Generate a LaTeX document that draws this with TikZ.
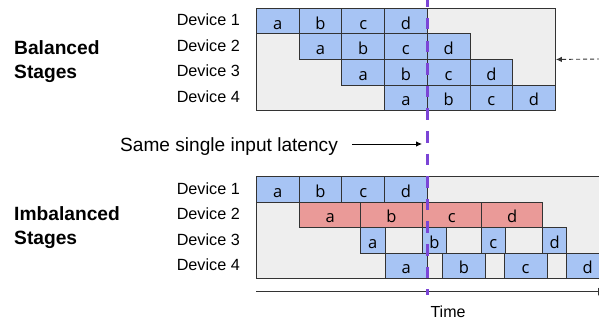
\documentclass[tikz,border=0pt]{standalone}
\usepackage{fontspec}
\setmainfont{Liberation Sans}
\newfontfamily\blkfont{Open Sans}
\usetikzlibrary{arrows.meta}

\definecolor{blkblue}{HTML}{A7C4F4}
\definecolor{blkred}{HTML}{EA9A98}
\definecolor{lanegray}{HTML}{EEEEEE}
\definecolor{edgegray}{HTML}{333333}
\definecolor{cutpurple}{HTML}{7B45D6}

% one work block: name, left x, top y, width, label, fill style
\newcommand\blk[6]{\node[blkbox, #6, minimum width=#4] (#1) at (#2,#3) {#5};}

\tikzset{
  lane/.style={draw=edgegray, fill=lanegray, line width=0.9pt, inner sep=0pt, anchor=north west},
  blkbox/.style={draw=edgegray, line width=0.9pt, inner sep=0pt, anchor=north west,
    minimum height=25.5, text height=16, text depth=0,
    font=\blkfont\fontsize{16.5}{18}\selectfont},
  blue/.style={fill=blkblue},
  red/.style={fill=blkred},
  devlbl/.style={anchor=base east, inner sep=0pt, font=\fontsize{16.2}{19}\selectfont},
  title/.style={anchor=base west, inner sep=0pt, font=\bfseries\fontsize{19.2}{23}\selectfont},
}

\begin{document}
\begin{tikzpicture}[x=1pt, y=-1pt]
\clip (0,0) rectangle (599,321);
\fill[white] (0,0) rectangle (599,321);

% ---------- balanced stages ----------
\node[lane, minimum width=299, minimum height=102] (topframe) at (256,8) {};
\foreach \r/\lbl in {1/a,2/b,3/c,4/d}{
  \foreach \d in {1,...,4}{
    \pgfmathsetmacro\xx{256+42.7*(\r+\d-2)}
    \pgfmathsetmacro\yy{8+25.5*(\d-1)}
    \blk{t\d\lbl}{\xx}{\yy}{42.7}{\lbl}{blue}
  }
}
\node[devlbl] (td1) at (240,26) {Device 1};
\node[devlbl] (td2) at (240,51.5) {Device 2};
\node[devlbl] (td3) at (240,77) {Device 3};
\node[devlbl] (td4) at (240,102.5) {Device 4};
\node[title] (bal1) at (14,55) {Balanced};
\node[title] (bal2) at (14,78.5) {Stages};

% ---------- imbalanced stages ----------
\node[lane, minimum width=360, minimum height=102] (botframe) at (256,176) {};
% device 1
\blk{b1a}{256}{176}{42.7}{a}{blue}
\blk{b1b}{298.7}{176}{42.7}{b}{blue}
\blk{b1c}{341.4}{176}{42.7}{c}{blue}
\blk{b1d}{384.1}{176}{42.7}{d}{blue}
% device 2 (slow stage)
\blk{b2a}{299.3}{201.5}{60.9}{a}{red}
\blk{b2b}{360.2}{201.5}{61.5}{b}{red}
\blk{b2c}{421.7}{201.5}{59.5}{c}{red}
\blk{b2d}{481.2}{201.5}{61.1}{d}{red}
% device 3
\blk{b3a}{360.2}{227}{24.3}{a}{blue}
\blk{b3b}{421.7}{227}{24.5}{b}{blue}
\blk{b3c}{481.2}{227}{23.5}{c}{blue}
\blk{b3d}{542.3}{227}{24}{d}{blue}
% device 4
\blk{b4a}{384.5}{252.5}{42.3}{a}{blue}
\blk{b4b}{442}{252.5}{43}{b}{blue}
\blk{b4c}{503.7}{252.5}{43}{c}{blue}
\blk{b4d}{565.7}{252.5}{43}{d}{blue}
\node[devlbl] (bd1) at (240,194) {Device 1};
\node[devlbl] (bd2) at (240,219.5) {Device 2};
\node[devlbl] (bd3) at (240,245) {Device 3};
\node[devlbl] (bd4) at (240,270.5) {Device 4};
\node[title] (imb1) at (14,220) {Imbalanced};
\node[title] (imb2) at (14,244.5) {Stages};

% ---------- time axis ----------
\coordinate (t0) at (256,291.7);
\coordinate (t1) at (607,291.7);
\draw[line width=0.9pt, draw=edgegray, -{Latex[length=9pt,width=8pt]}] (t0) -- (t1);
\node[anchor=base, inner sep=0pt, font=\fontsize{16}{19}\selectfont] (time) at (448,317) {Time};

% ---------- latency marker ----------
\node[anchor=base west, inner sep=0pt, font=\fontsize{19.1}{22}\selectfont] (lat) at (120,151) {Same single input latency};
\coordinate (latfrom) at (352,144);
\coordinate (latto) at (422,144);
\draw[line width=0.8pt, -{Latex[length=6pt,width=5.5pt]}] (latfrom) -- (latto);

\coordinate (cuttop) at (427,0);
\coordinate (cutbot) at (427,295);
\draw[cutpurple, line width=3pt, dash pattern=on 11.5pt off 11.1pt, dash phase=4.6pt] (cuttop) -- (cutbot);

% ---------- incoming dashed arrow ----------
\coordinate (inflow) at (601,59);
\draw[edgegray, line width=0.9pt, dash pattern=on 4pt off 3pt, -{Latex[length=6pt,width=5.5pt]}] (inflow) -- (topframe.east);
\end{tikzpicture}
\end{document}
